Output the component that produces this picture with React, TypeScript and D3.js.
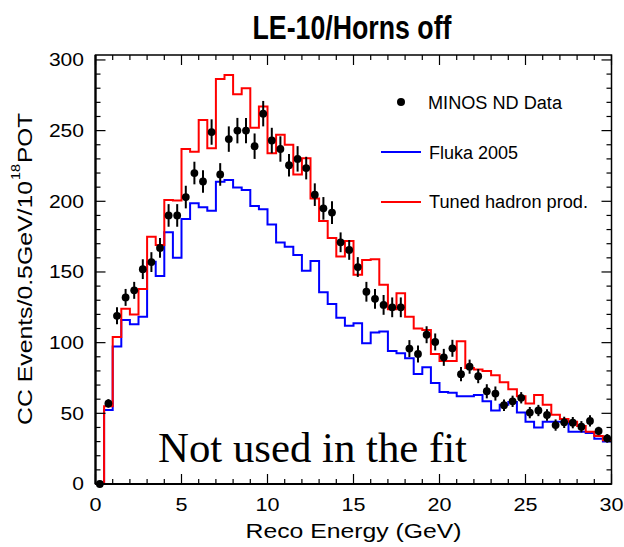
import React from "react";
import * as d3 from "d3";

const W = 624;
const H = 547;

const binWidth = 0.5;
const xDomain = [0, 30];
const yDomain = [0, 303.5];

const dataValues = [
  0, 57, 119, 132, 137, 152, 157, 167, 190, 190,
  203, 220, 214, 249, 219, 244, 250, 250, 239, 262,
  243, 237, 225.5, 230, 223.5, 204.7, 195, 192, 171, 165.6,
  153.5, 136, 131, 126.7, 125, 125, 95.8, 92, 105.6, 100.5,
  89.6, 96, 77.7, 83, 76.3, 65.6, 64, 55.7, 58.5, 61,
  50.5, 52, 48.8, 41.7, 43.6, 43.4, 40.5, 44.6, 37.5, 32.3,
];

const dataErrors = [
  0, 3, 6, 6, 6, 7, 7, 7, 8, 8,
  8, 8, 8, 9, 8, 9, 9, 9, 9, 9,
  9, 9, 8, 9, 8, 8, 8, 8, 7, 7,
  7, 7, 7, 7, 7, 7, 6, 6, 6, 6,
  6, 6, 5, 5, 5, 5, 5, 4, 4, 4,
  4, 4, 4, 4, 4, 4, 4, 4, 3, 3,
];

const tunedValues = [
  0, 55, 104, 124, 120, 138, 175, 169, 201, 200.5,
  237, 235, 257.6, 237.5, 286.6, 289.4, 275.7, 280, 252, 267,
  234, 247, 240, 219, 230.5, 202, 186, 174, 161, 172,
  148, 158.5, 159, 141, 123.6, 135, 118.4, 110, 109, 92,
  87, 87, 101, 82, 81, 80, 77, 72, 67, 62,
  57, 63, 56, 49, 46, 44, 41, 37, 34, 31,
];

const flukaValues = [
  0, 52.4, 97.2, 116, 113, 118.4, 157.3, 147.2, 178.1, 160.1,
  187.5, 198.6, 195.8, 193.4, 213.9, 215.1, 209.7, 208, 196.7, 194.4,
  183.5, 170.8, 167.9, 162, 150.9, 157.8, 135.6, 127.4, 117.7, 112,
  113.7, 99.6, 107.1, 107.8, 94.1, 92.5, 88.9, 77.8, 82.6, 71.5,
  65, 64.5, 62, 62, 63, 58.5, 52, 56, 58, 50.5,
  44, 40, 44, 44, 44, 37, 37, 36, 32, 30,
];

const xTickLabels = ["0", "5", "10", "15", "20", "25", "30"];
const yTickLabels = ["0", "50", "100", "150", "200", "250", "300"];

const legendLabels = ["MINOS ND Data", "Fluka 2005", "Tuned hadron prod."];
const titleText = "LE-10/Horns off";
const xTitle = "Reco Energy (GeV)";
const yTitleMain = "CC Events/0.5GeV/10";
const yTitleSup = "18";
const yTitleEnd = "POT";
const noteText = "Not used in the fit";

const RED = "#ff0000";
const BLUE = "#0000ff";
const SANS = "'Liberation Sans', Arial, Helvetica, sans-serif";
const SERIF = "'Liberation Serif', 'Times New Roman', serif";

const plot = { left: 95.5, right: 611.5, top: 55, bottom: 484 };

export default function App() {
  const x = d3.scaleLinear().domain(xDomain).range([plot.left, plot.right]);
  const y = d3.scaleLinear().domain(yDomain).range([plot.bottom, plot.top]);

  const stepPath = (vals: number[]) => {
    const pts: [number, number][] = vals.map((v, i) => [i * binWidth, v]);
    pts.push([vals.length * binWidth, vals[vals.length - 1]]);
    return d3
      .line<[number, number]>()
      .x((d) => x(d[0]))
      .y((d) => y(d[1]))
      .curve(d3.curveStepAfter)(pts) as string;
  };

  const xMajor = x.ticks(6);
  const xMinor = x.ticks(30).filter((t) => !xMajor.includes(t));
  const yMajor = yTickLabels.map(Number);
  const yMinor = d3.range(0, yDomain[1], 10).filter((t) => t % 50 !== 0);

  const MAJ = 10;
  const MIN = 5;

  return (
    <div style={{ position: "fixed", left: 0, top: 0 }}>
      <svg width={W} height={H} style={{ display: "block", background: "#fff" }}>
        <rect x={0} y={0} width={W} height={H} fill="#fff" />
        {/* title */}
        <text
          x={352}
          y={39}
          textAnchor="middle"
          fontFamily={SANS}
          fontWeight="bold"
          fontSize={33}
          textLength={199}
          lengthAdjust="spacingAndGlyphs"
        >
          {titleText}
        </text>

        {/* histograms */}
        <path d={stepPath(flukaValues)} fill="none" stroke={BLUE} strokeWidth={2} />
        <path d={stepPath(tunedValues)} fill="none" stroke={RED} strokeWidth={2} />

        {/* data */}
        {dataValues.map((v, i) => {
          const cx = x(i * binWidth + binWidth / 2);
          return (
            <g key={"d" + i}>
              {dataErrors[i] > 0 && (
                <line
                  x1={cx}
                  x2={cx}
                  y1={y(v - dataErrors[i])}
                  y2={y(v + dataErrors[i])}
                  stroke="#000"
                  strokeWidth={2}
                />
              )}
              <circle cx={cx} cy={y(v)} r={3.9} fill="#000" />
            </g>
          );
        })}

        {/* frame */}
        <rect
          x={plot.left}
          y={plot.top}
          width={plot.right - plot.left}
          height={plot.bottom - plot.top}
          fill="none"
          stroke="#000"
          strokeWidth={1.5}
        />
        <line x1={plot.left} x2={plot.right} y1={plot.bottom} y2={plot.bottom} stroke="#000" strokeWidth={2.2} />
        <line x1={plot.left} x2={plot.left} y1={plot.top} y2={plot.bottom} stroke="#000" strokeWidth={2.2} />

        {/* x ticks bottom & top */}
        {xMajor.map((t) => (
          <g key={"xM" + t}>
            <line x1={x(t)} x2={x(t)} y1={plot.bottom} y2={plot.bottom - MAJ} stroke="#000" strokeWidth={1.2} />
            <line x1={x(t)} x2={x(t)} y1={plot.top} y2={plot.top + MAJ} stroke="#000" strokeWidth={1.2} />
          </g>
        ))}
        {xMinor.map((t) => (
          <g key={"xm" + t}>
            <line x1={x(t)} x2={x(t)} y1={plot.bottom} y2={plot.bottom - MIN} stroke="#000" strokeWidth={1.2} />
            <line x1={x(t)} x2={x(t)} y1={plot.top} y2={plot.top + MIN} stroke="#000" strokeWidth={1.2} />
          </g>
        ))}
        {/* y ticks left & right */}
        {yMajor.map((t) => (
          <g key={"yM" + t}>
            <line x1={plot.left} x2={plot.left + MAJ} y1={y(t)} y2={y(t)} stroke="#000" strokeWidth={1.2} />
            <line x1={plot.right} x2={plot.right - MAJ} y1={y(t)} y2={y(t)} stroke="#000" strokeWidth={1.2} />
          </g>
        ))}
        {yMinor.map((t) => (
          <g key={"ym" + t}>
            <line x1={plot.left} x2={plot.left + MIN} y1={y(t)} y2={y(t)} stroke="#000" strokeWidth={1.2} />
            <line x1={plot.right} x2={plot.right - MIN} y1={y(t)} y2={y(t)} stroke="#000" strokeWidth={1.2} />
          </g>
        ))}

        {/* tick labels */}
        {xTickLabels.map((lab) => (
          <text
            key={"xl" + lab}
            x={x(Number(lab))}
            y={511}
            textAnchor="middle"
            fontFamily={SANS}
            fontSize={18}
            textLength={12 * lab.length}
            lengthAdjust="spacingAndGlyphs"
          >
            {lab}
          </text>
        ))}
        {yTickLabels.map((lab) => (
          <text
            key={"yl" + lab}
            x={84}
            y={y(Number(lab)) + 6.4}
            textAnchor="end"
            fontFamily={SANS}
            fontSize={17.5}
            textLength={11.7 * lab.length}
            lengthAdjust="spacingAndGlyphs"
          >
            {lab}
          </text>
        ))}

        {/* axis titles */}
        <text
          x={(plot.left + plot.right) / 2}
          y={538}
          textAnchor="middle"
          fontFamily={SANS}
          fontSize={20}
          textLength={216}
          lengthAdjust="spacingAndGlyphs"
        >
          {xTitle}
        </text>
        <g transform="translate(32,425) rotate(-90)" fontFamily={SANS}>
          <text x={0} y={0} fontSize={20} textLength={244} lengthAdjust="spacingAndGlyphs">
            {yTitleMain}
          </text>
          <text x={245} y={-12} fontSize={13} textLength={16} lengthAdjust="spacingAndGlyphs">
            {yTitleSup}
          </text>
          <text x={262} y={0} fontSize={20} textLength={50} lengthAdjust="spacingAndGlyphs">
            {yTitleEnd}
          </text>
        </g>

        {/* note */}
        <text x={158} y={462} fontFamily={SERIF} fontSize={42} textLength={309} lengthAdjust="spacingAndGlyphs">
          {noteText}
        </text>

        {/* legend */}
        <circle cx={401} cy={102} r={4} fill="#000" />
        <text x={428} y={109} fontFamily={SANS} fontSize={18} textLength={134} lengthAdjust="spacingAndGlyphs">
          {legendLabels[0]}
        </text>
        <line x1={381} x2={421} y1={152} y2={152} stroke={BLUE} strokeWidth={2} />
        <text x={429} y={159} fontFamily={SANS} fontSize={18} textLength={89} lengthAdjust="spacingAndGlyphs">
          {legendLabels[1]}
        </text>
        <line x1={381} x2={421} y1={202} y2={202} stroke={RED} strokeWidth={2} />
        <text x={429} y={208} fontFamily={SANS} fontSize={18} textLength={159} lengthAdjust="spacingAndGlyphs">
          {legendLabels[2]}
        </text>
      </svg>
    </div>
  );
}
